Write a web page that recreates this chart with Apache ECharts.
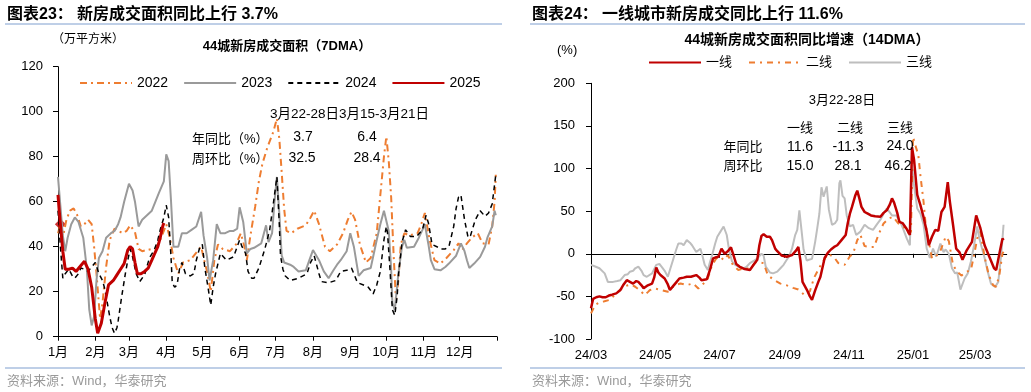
<!DOCTYPE html>
<html><head><meta charset="utf-8">
<script src="https://cdn.jsdelivr.net/npm/echarts@6.0.0/dist/echarts.min.js"></script>
<style>html,body{margin:0;padding:0;background:#fff}#c{width:1031px;height:392px}</style>
</head><body><div id="c"></div>
<script>
// ---------- Left chart data: [day of year, value] ----------
const s2022 = [[0,46],[2,50],[4,44],[7,52],[10,56],[13,57],[16,54],[19,49],[22,50],[25,52],[28,50],[30,40],[32,28],[35,8],[37,15],[40,31],[43,43],[47,48],[50,47],[54,46],[57,47],[60,49.5],[64,46.5],[67,39],[70,38],[74,38.5],[78,39],[81,39],[85,43],[88,47],[90,50],[93,44],[96,35],[100,28],[104,33],[110,34],[116,38],[119,40],[122,33],[124,29],[127,20],[130,34],[133,41],[137,39],[143,38],[148,41],[152,46],[155,40],[157,34],[160,45],[164,58],[167,69],[170,77],[174,84],[179,91],[182,97],[184,88],[186,73],[188,57],[190,47],[194,46],[199,48],[206,49.5],[210,53],[213,56],[217,50],[222,40],[226,38],[232,41],[237,46],[241,52],[244,55.5],[247,52],[251,41],[256,33],[260,35],[265,46],[268,63],[271,80],[273,89],[275,78],[277,62],[279,37],[281,16],[283,25],[285,41],[288,46],[292,45],[299,46],[302,50],[305,55],[309,43],[313,34],[318,32.5],[323,35],[329,38.5],[333,41.5],[336,38.5],[340,41.5],[344,44],[349,46],[353,41.5],[358,41],[361,49],[363,60],[364,72]];
const s2023 = [[0,71],[2,58],[4,45],[6,38],[8,44],[11,50],[14,53],[17,51],[21,44],[24,30],[26,12],[28,5],[30,9],[32,25],[34,35],[37,38],[40,44],[44,46],[47,47],[50,50],[52,53],[55,60],[59,68],[62,65],[64,60],[67,49],[70,52],[74,54],[78,56],[81,60],[84,64],[88,69],[90,81],[92,78],[94,60],[96,40],[100,40],[103,46],[107,46],[111,47.5],[115,49],[119,55.5],[121,45],[124,35],[126,25],[129,34],[132,50],[135,46],[139,46],[143,47],[146,47],[149,48],[151,57.5],[154,51],[157,37],[160,39],[163,39.5],[166,40.5],[169,41.5],[173,49.5],[175,42],[178,46],[180,60],[182,71],[184,55],[186,36],[188,33],[193,32],[196,31],[200,29],[206,29.5],[209,34],[212,38.5],[217,34],[221,29],[225,26],[229,29.5],[232,32],[235,34],[240,38],[243,46],[246,40],[250,27],[254,29.5],[260,30.5],[265,43],[268,50],[271,56],[275,47],[277,30],[278,15],[280,12],[283,28],[286,40],[288,43],[290,39.5],[296,40],[300,44],[303,47.5],[305,50],[308,41],[310,34],[313,30],[318,29.5],[322,31],[325,32.5],[331,36],[335,41.5],[338,38],[340,34],[342,30.5],[346,32.5],[351,35.5],[355,40],[357,44],[361,49],[363,56],[364,54]];
const s2024 = [[0,56],[2,40],[4,26],[6,28],[9,30],[12,27],[14,26],[17,28],[19,30.5],[22,30],[25,29],[28,31],[31,33],[34,28],[37,25],[39,21],[41,15],[43,9],[45,4],[47,1.5],[49,4],[50,7],[53,18],[56,28],[58,34],[60,39],[62,35.5],[65,28],[68,24.5],[72,27.5],[76,35],[80,38.5],[83,43],[85,47.5],[88,53],[90,58.5],[92,53],[94,35],[95,24],[97,22],[99,23],[101,30],[103,33],[106,28],[110,27],[113,28],[115,34],[118,40],[120,41],[122,31],[125,21],[127,14],[129,22],[131,28],[135,37],[140,34],[146,35.5],[149,40],[151,43],[153,40],[156,37],[158,29],[161,26],[163,26],[167,30.5],[172,39],[176,47.5],[179,59],[182,71],[184,50],[185,36],[187,30],[189,27],[193,25],[200,26],[207,28],[210,33],[213,36],[215,32],[217,28],[219,24.5],[225,24],[231,25],[235,29],[240,29.5],[244,30.5],[246,28],[249,24],[254,23],[258,22],[262,19],[265,23],[268,29],[271,43],[273,49],[274,46],[276,30],[278,12],[280,9.5],[282,18],[283,27],[286,42],[289,47.5],[293,44.5],[298,44.5],[303,47.5],[306,54],[308,50.5],[311,41],[315,40],[318,39],[322,39],[325,40],[329,49],[331,57],[333,62],[335,63],[338,52],[341,44],[343,45],[347,52],[351,56],[355,53.5],[358,55],[361,59],[364,72]];
const s2025 = [[0,63],[1,56],[2,50],[4,38],[6,30],[9,30],[12,30.5],[15,29],[18,31],[22,33.5],[25,30],[28,22],[31,8],[33,1.5],[36,6],[39,15],[42,23],[46,25],[49,27.5],[52,30],[55,32.5],[58,38.5],[60,40],[62,39],[64,33],[66,28],[69,28],[72,29],[75,30.5],[78,34],[80,36.5],[83,40],[85,44],[87,49],[88,50.5]];
const mark2025 = [[2,50]];
const leftYears = ['2022','2023','2024','2025'];
const monthLengths = [31,28,31,30,31,30,31,31,30,31,30,31];

// ---------- Right chart data: [day index from 2024-03-01, value] ----------
const tier1 = [[0,-64],[2,-53],[5,-51],[8,-50],[11,-51],[14,-51],[17,-49],[20,-48],[24,-46.5],[28,-42.5],[31,-36],[34,-31],[37,-33],[40,-35],[43,-32],[45,-33],[48,-37],[50,-40.5],[54,-37],[58,-35],[60,-28],[62,-16],[64,-22],[66,-25],[70,-29],[73,-36],[75,-42.5],[78,-38],[80,-35],[84,-29],[88,-28],[91,-27],[95,-27],[100,-25],[103,-28],[105,-31],[110,-30],[113,-19],[116,-5.5],[119,-4],[121,-3.5],[124,6],[127,0],[130,3],[133,7.5],[135,0],[138,-12],[141,-15],[146,-18],[151,-19],[155,-12],[158,-7],[160,10],[162,21],[164,23],[167,20],[170,20],[172,16],[175,6],[177,3],[181,-2],[186,-3.5],[191,-1.5],[195,4],[197,8],[199,-8],[201,-33],[205,-42],[208,-50],[210,-54],[213,-43],[216,-33],[218,-27],[222,-5],[225,1],[228,5],[231,8],[234,10],[238,16],[242,22],[244,36],[246,47],[248,55],[251,68],[253,74],[255,65],[257,55],[260,49],[263,47],[266,45],[270,44],[275,43.5],[278,48],[281,51],[284,58],[286,65],[288,60],[291,48],[293,37.5],[296,36],[300,29],[303,22],[305,125],[307,110],[310,69],[313,57],[316,43],[319,26],[321,10],[324,20],[327,28],[330,27],[333,49],[336,55],[339,84],[341,61],[344,34],[347,6],[350,2],[353,-7],[357,4],[362,14],[366,45],[370,30],[374,10],[379,-5],[383,-17],[385,-19],[389,6],[391,18],[392,16]];
const tier2 = [[0,-70],[4,-60],[8,-57],[12,-56],[18,-54],[24,-46.5],[28,-42],[31,-38.7],[35,-37],[38,-36],[42,-38.7],[46,-42.6],[49,-46],[51,-48.5],[54,-45],[56,-42.6],[61,-40.7],[67,-42.6],[73,-44.6],[78,-38.7],[82,-36],[85,-34.8],[91,-36.8],[97,-34.8],[102,-40.7],[107,-34.8],[111,-29],[115,-13.3],[119,-5.5],[123,-3.5],[126,-7.4],[130,-1.6],[135,-13.3],[140,-19],[145,-17.2],[151,-17.2],[157,-9.4],[164,-11],[168,-25],[173,-30],[180,-35],[186,-37],[192,-40],[197,-42],[203,-48.5],[208,-44],[212,-28],[218,-14],[225,0],[231,-4],[235,-11],[241,-13],[246,-3],[249,0],[253,16],[256,22],[260,9],[265,8],[269,8],[273,22],[278,35.6],[283,41.5],[287,43.4],[292,35.6],[297,31.7],[302,24],[304,26],[306,137],[308,128],[311,116],[313,92],[316,61],[318,34],[321,14],[324,-5.4],[327,-3],[331,0.4],[334,10],[337,20],[340,15],[344,-13.3],[348,-21],[352,-25.6],[357,-21],[361,-19],[364,-1.5],[367,18],[370,25.8],[374,-3.5],[378,-25],[382,-36.8],[385,-38.7],[388,-25],[391,0.4],[392,2.3]];
const tier3 = [[0,-13],[4,-15],[8,-17],[13,-23],[16,-33],[21,-33],[25,-32],[28,-31],[32,-25],[35,-24],[37,-21],[40,-20],[42,-17],[45,-15],[48,-20],[50,-25],[53,-27],[58,-23],[62,-13],[65,-12],[67,-15],[70,-20],[73,-27],[76,-15],[78,-7],[81,5],[83,12],[86,12],[88,10],[91,16],[94,13],[96,10],[100,2],[104,6],[106,-3],[108,-13],[111,-19],[113,-10],[115,-2],[118,12],[120,20],[123,26],[126,32],[129,22],[131,6],[134,-9],[137,-13],[140,-15],[145,-17],[148,-15],[151,-11],[155,-8],[158,-5.5],[162,0],[164,-2],[166,-15],[170,-22],[173,-23],[177,-21],[180,-17],[183,-13],[186,-7],[188,-3.5],[191,6],[194,22],[196,28],[198,51],[200,28],[202,5],[205,-8],[207,-7],[210,-6],[213,14],[215,30],[217,47],[219,78],[221,67],[224,79],[226,52],[229,34],[232,36],[234,40],[236,83],[237,86],[239,68],[241,65],[243,45],[246,32],[249,34],[252,22],[256,26],[260,34],[264,30],[268,28],[272,35],[275,40],[278,47],[281,53],[283,50],[286,45],[290,45],[294,37],[297,28],[300,18],[303,10],[305,105],[307,80],[310,53],[313,47],[316,34],[319,6],[322,-5],[325,6],[328,-3.5],[332,12],[335,2],[337,5],[340,0],[343,-17],[346,-23],[348,-22],[351,-42],[355,-29],[358,-23],[361,-9],[364,10],[367,32],[369,18],[374,-5],[377,-21],[380,-35],[384,-39],[387,-33],[390,2],[392,34]];
const tierNames = ['一线','二线','三线'];
const rightStart = '2024-03-01';
const rightDays = 396;

// ---------- categories ----------
const leftCats = [];
monthLengths.forEach((n, m) => { for (let d = 1; d <= n; d++) leftCats.push((m + 1) + '-' + d); });
leftCats.push('13-1');
const isMonthStart = (v) => /-1$/.test(v);

const rightCats = [];
const t0 = Date.parse(rightStart + 'T00:00:00Z');
for (let i = 0; i < rightDays; i++) {
  const dt = new Date(t0 + i * 86400000);
  rightCats.push(dt.toISOString().slice(0, 10));
}
const isOddMonthStart = (v) => v.endsWith('-01') && (parseInt(v.slice(5, 7), 10) % 2 === 1);

const ORANGE = '#EE7D31', RED = '#C00000', GRAY = '#9A9A9A', LGRAY = '#BEBEBE', BLACK = '#000000';
const LAT = '"Liberation Sans", Arial, "Noto Sans CJK SC", sans-serif';
const CJK = '"Liberation Sans", "Noto Sans CJK SC", sans-serif';
const BLUE = '#7F9FCF';

function txt(text, x, y, size, opts) {
  opts = opts || {};
  return {
    type: 'text', silent: true, z: 100,
    style: {
      text: text, x: x, y: y,
      font: (opts.bold ? 'bold ' : '') + size + 'px ' + (opts.family || CJK),
      fill: opts.color || '#000',
      align: opts.align || 'left', textAlign: opts.align || 'left',
      verticalAlign: 'middle', textVerticalAlign: 'middle'
    }
  };
}
function hline(x1, x2, y) {
  return { type: 'line', silent: true, shape: { x1: x1, y1: y, x2: x2, y2: y }, style: { stroke: BLUE, lineWidth: 1 } };
}

const chart = echarts.init(document.getElementById('c'), null, { renderer: 'canvas' });
chart.setOption({
  animation: false,
  backgroundColor: '#fff',
  grid: [
    { left: 58, top: 66.7, width: 439, height: 270, containLabel: false },
    { left: 591, top: 83.3, width: 415.7, height: 255.7, containLabel: false }
  ],
  legend: [
    { data: leftYears, left: 79, top: 76, itemWidth: 52, itemHeight: 10, itemGap: 15, padding: 0,
      itemStyle: { opacity: 0 },
      textStyle: { fontSize: 14, fontFamily: LAT, color: '#000' } },
    { data: tierNames, left: 648, top: 56, itemWidth: 52, itemHeight: 10, itemGap: 16, padding: 0,
      itemStyle: { opacity: 0 },
      textStyle: { fontSize: 13, fontFamily: CJK, color: '#000' } }
  ],
  xAxis: [
    { gridIndex: 0, type: 'category', data: leftCats, boundaryGap: false,
      axisLine: { lineStyle: { color: '#000', width: 1 } },
      axisTick: { interval: (i, v) => isMonthStart(v), length: 4, lineStyle: { color: '#000' } },
      axisLabel: { interval: (i, v) => isMonthStart(v) && v !== '13-1', formatter: (v) => v.split('-')[0] + '月',
        margin: 9, fontSize: 13, fontFamily: CJK, color: '#000' },
      splitLine: { show: false } },
    { gridIndex: 1, type: 'category', data: rightCats, boundaryGap: false, position: 'bottom',
      axisLine: { show: false, onZero: false }, axisTick: { show: false },
      axisLabel: { interval: (i, v) => isOddMonthStart(v), formatter: (v) => v.slice(2, 4) + '/' + v.slice(5, 7),
        margin: 10, fontSize: 13, fontFamily: LAT, color: '#000' },
      splitLine: { show: false } },
    { gridIndex: 1, type: 'category', data: rightCats, boundaryGap: false, position: 'bottom',
      axisLine: { show: true, onZero: true, lineStyle: { color: '#000', width: 1 } },
      axisTick: { show: true, interval: (i, v) => isOddMonthStart(v), length: 4, lineStyle: { color: '#000' } },
      axisLabel: { show: false }, splitLine: { show: false } }
  ],
  yAxis: [
    { gridIndex: 0, type: 'value', min: 0, max: 120, interval: 20,
      axisLine: { show: true, lineStyle: { color: '#000' } },
      axisTick: { show: true, length: 5, lineStyle: { color: '#000' } },
      axisLabel: { margin: 15, fontSize: 13, fontFamily: LAT, color: '#000' },
      splitLine: { show: false } },
    { gridIndex: 1, type: 'value', min: -100, max: 200, interval: 50,
      axisLine: { show: true, lineStyle: { color: '#000' } },
      axisTick: { show: true, length: 5, lineStyle: { color: '#000' } },
      axisLabel: { margin: 16, fontSize: 13, fontFamily: LAT, color: '#000' },
      splitLine: { show: false } }
  ],
  series: [
    { name: '2022', type: 'line', xAxisIndex: 0, yAxisIndex: 0, data: s2022, symbol: 'none',
      lineStyle: { color: ORANGE, width: 2, type: [7, 4, 2, 4] }, itemStyle: { color: ORANGE } },
    { name: '2023', type: 'line', xAxisIndex: 0, yAxisIndex: 0, data: s2023, symbol: 'none',
      lineStyle: { color: GRAY, width: 2 }, itemStyle: { color: GRAY } },
    { name: '2024', type: 'line', xAxisIndex: 0, yAxisIndex: 0, data: s2024, symbol: 'none',
      lineStyle: { color: BLACK, width: 1.5, type: [5, 4] }, itemStyle: { color: BLACK } },
    { name: '2025', type: 'line', xAxisIndex: 0, yAxisIndex: 0, data: s2025, symbol: 'none',
      lineStyle: { color: RED, width: 3 }, itemStyle: { color: RED } },
    { name: 'mark2025', type: 'scatter', xAxisIndex: 0, yAxisIndex: 0, data: mark2025, symbol: 'diamond',
      symbolSize: 11, itemStyle: { color: RED } },
    { name: '三线', type: 'line', xAxisIndex: 1, yAxisIndex: 1, data: tier3, symbol: 'none',
      lineStyle: { color: LGRAY, width: 2 }, itemStyle: { color: LGRAY } },
    { name: '二线', type: 'line', xAxisIndex: 1, yAxisIndex: 1, data: tier2, symbol: 'none',
      lineStyle: { color: ORANGE, width: 2, type: [6, 5, 2, 5] }, itemStyle: { color: ORANGE } },
    { name: '一线', type: 'line', xAxisIndex: 1, yAxisIndex: 1, data: tier1, symbol: 'none',
      lineStyle: { color: RED, width: 2.5 }, itemStyle: { color: RED } }
  ],
  graphic: [
    // left panel texts
    txt('图表23：', 7, 15, 16, { bold: true }),
    txt('新房成交面积同比上行 3.7%', 77, 15, 16, { bold: true }),
    hline(5, 502, 24),
    txt('（万平方米）', 52, 40, 12),
    txt('44城新房成交面积（7DMA）', 287, 46, 13, { bold: true, align: 'center' }),
    txt('3月22-28日3月15-3月21日', 270, 114, 13.5),
    txt('年同比（%）', 192, 139, 13),
    txt('周环比（%）', 192, 159, 13),
    txt('3.7', 303, 137, 14, { align: 'center', family: LAT }),
    txt('6.4', 367, 137, 14, { align: 'center', family: LAT }),
    txt('32.5', 302, 158, 14, { align: 'center', family: LAT }),
    txt('28.4', 367, 158, 14, { align: 'center', family: LAT }),
    hline(5, 502, 368),
    txt('资料来源：Wind，华泰研究', 7, 381, 13, { color: '#9a9a9a' }),
    // right panel texts
    txt('图表24：', 532, 15, 16, { bold: true }),
    txt('一线城市新房成交同比上行 11.6%', 602, 15, 16, { bold: true }),
    hline(530, 1025, 24),
    txt('44城新房成交面积同比增速（14DMA）', 807, 40, 14, { bold: true, align: 'center' }),
    txt('(%)', 557, 50, 13, { family: LAT }),
    txt('3月22-28日', 842, 100, 13, { align: 'center' }),
    txt('一线', 800, 128, 13, { align: 'center' }),
    txt('二线', 850, 128, 13, { align: 'center' }),
    txt('三线', 900, 128, 13, { align: 'center' }),
    txt('年同比', 743, 147, 13, { align: 'center' }),
    txt('周环比', 743, 166, 13, { align: 'center' }),
    txt('11.6', 800, 147, 14, { align: 'center', family: LAT }),
    txt('-11.3', 848, 147, 14, { align: 'center', family: LAT }),
    txt('24.0', 900, 146, 14, { align: 'center', family: LAT }),
    txt('15.0', 800, 166, 14, { align: 'center', family: LAT }),
    txt('28.1', 848, 166, 14, { align: 'center', family: LAT }),
    txt('46.2', 898, 166, 14, { align: 'center', family: LAT }),
    hline(530, 1025, 368),
    txt('资料来源：Wind，华泰研究', 532, 381, 13, { color: '#9a9a9a' })
  ]
});
</script></body></html>
